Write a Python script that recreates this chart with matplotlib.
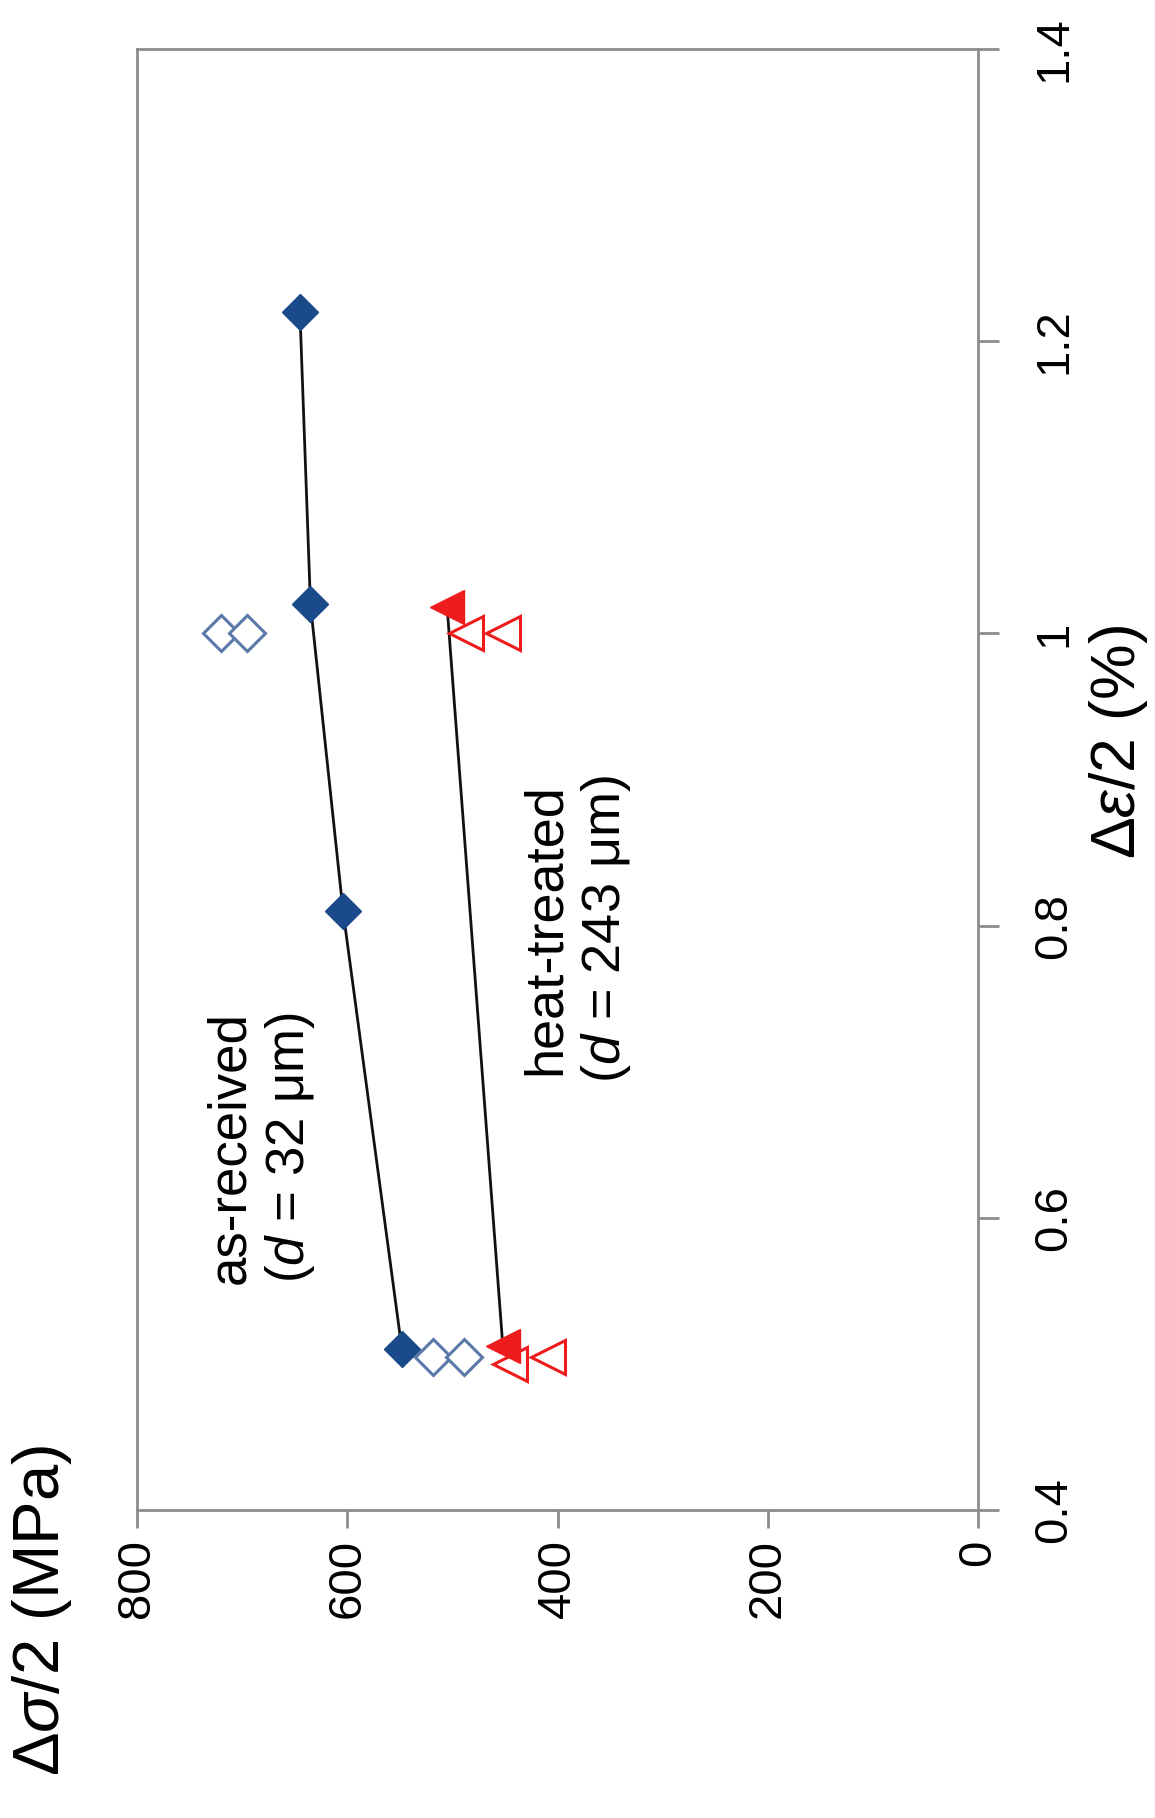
import numpy as np
import matplotlib
matplotlib.use("Agg")
import matplotlib.pyplot as plt

plt.rcParams['font.family'] = ['Liberation Sans', 'DejaVu Sans']
plt.rcParams['mathtext.fontset'] = 'custom'
plt.rcParams['mathtext.rm'] = 'Liberation Sans'
plt.rcParams['mathtext.it'] = 'Liberation Sans:italic'

# as-received (d = 32 um)
ar_strain = [0.51, 0.81, 1.02, 1.22]
ar_stress = [548, 604, 635, 645]
ar_open_strain = [0.505, 0.505, 1.00, 1.00]
ar_open_stress = [518, 489, 720, 695]

# heat-treated (d = 243 um)
ht_strain = [0.512, 1.018]
ht_stress = [452, 505]
ht_open_strain = [0.50, 0.505, 1.00, 1.00]
ht_open_stress = [445, 409, 487, 452]

stress_ticks = [0, 200, 400, 600, 800]
strain_ticks = [0.4, 0.6, 0.8, 1.0, 1.2, 1.4]
strain_labels = ['0.4', '0.6', '0.8', '1', '1.2', '1.4']

blue = '#1a4a8a'
blue_open = '#5a78a8'
red = '#ee1c1c'
grey = '#8c8c8c'

fig = plt.figure(figsize=(11.55, 18.18), dpi=100)
ax = fig.add_axes([0.1186, 0.1694, 0.7282, 0.8036])

# chart is drawn turned a quarter turn: stress runs right-to-left, strain bottom-to-top
ax.plot(ar_stress, ar_strain, color='#111111', lw=2, zorder=2)
ax.plot(ar_stress, ar_strain, ls='none', marker='D', ms=18, color=blue, zorder=4)
ax.plot(ar_open_stress, ar_open_strain, ls='none', marker='D', ms=18,
        mfc='white', mec=blue_open, mew=2.2, zorder=3)

ax.plot(ht_stress, ht_strain, color='#111111', lw=2, zorder=2)
ax.plot(ht_open_stress, ht_open_strain, ls='none', marker='<', ms=24,
        mfc='none', mec=red, mew=2.2, zorder=3)
ax.plot(ht_stress, ht_strain, ls='none', marker='<', ms=25, color=red, zorder=4)

ax.set_xlim(800, 0)
ax.set_ylim(0.4, 1.4)
ax.set_xticks(stress_ticks)
ax.set_xticklabels([str(v) for v in stress_ticks], rotation=90)
ax.set_yticks(strain_ticks)
ax.set_yticklabels(strain_labels, rotation=90, va='center')
ax.yaxis.tick_right()

for s in ax.spines.values():
    s.set_color(grey)
    s.set_linewidth(2)
ax.tick_params(axis='x', direction='out', length=13, width=2, color=grey,
               labelsize=34, pad=8)
ax.tick_params(axis='y', direction='out', length=15, width=2, color=grey,
               labelsize=34, pad=24)

ax.text(682, 0.648, 'as-received\n($\\mathit{d}$ = 32 μm)', rotation=90,
        ha='center', va='center', multialignment='center', fontsize=38)
ax.text(382, 0.798, 'heat-treated\n($\\mathit{d}$ = 243 μm)', rotation=90,
        ha='center', va='center', multialignment='center', fontsize=39)

fig.text(0.036, 0.114, 'Δ$\\mathit{σ}$/2 (MPa)', rotation=90, ha='center',
         va='center', fontsize=47)
fig.text(0.968, 0.592, 'Δ$\\mathit{ε}$/2 (%)', rotation=90, ha='center',
         va='center', fontsize=45)

fig.savefig('out.png', dpi=100, facecolor='white')
